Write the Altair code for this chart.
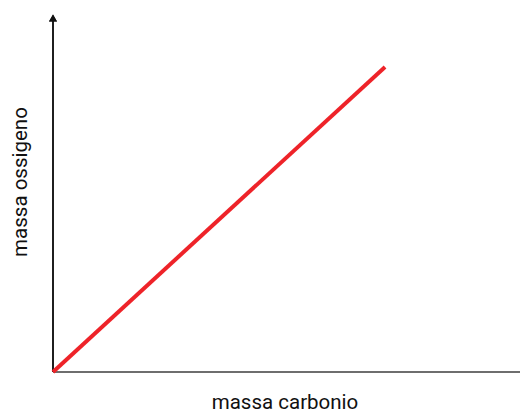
import altair as alt
import pandas as pd

carbonio = [0, 71.1]
ossigeno = [0, 83.8]

df = pd.DataFrame({"carbonio": carbonio, "ossigeno": ossigeno})

W, H = 467, 364

xsc = alt.Scale(domain=[0, 100], nice=False, zero=True)
ysc = alt.Scale(domain=[0, 100], nice=False, zero=True)

title_style = dict(titleFontSize=20.5, titleFontWeight="normal", titleFont="Roboto",
                   titleColor="#111111")

line = alt.Chart(df).mark_line(color="#ee2329", strokeWidth=4, strokeCap="butt").encode(
    x=alt.X("carbonio:Q", scale=xsc,
            axis=alt.Axis(title="massa carbonio", labels=False, ticks=False, domain=False, grid=False,
                          titleX=231.5, titleY=36, titleBaseline="alphabetic", titleAlign="center",
                          **title_style)),
    y=alt.Y("ossigeno:Q", scale=ysc,
            axis=alt.Axis(title="massa ossigeno", labels=False, ticks=False, domain=False, grid=False,
                          titleX=-27, titleY=173.5, titleBaseline="alphabetic", titleAlign="center",
                          titleAngle=270, **title_style)),
)

xaxis = alt.Chart(df).mark_rule(color="#6e6e6e", strokeWidth=2).encode(
    x=alt.value(0), x2=alt.value(W), y=alt.value(H)
)
yaxis = alt.Chart(df).mark_rule(color="#111111", strokeWidth=1.5).encode(
    x=alt.value(0), y=alt.value(12), y2=alt.value(H)
)
arrow = alt.Chart(df).mark_point(shape="triangle-up", filled=True, color="#111111", size=65, opacity=1).encode(
    x=alt.value(0), y=alt.value(10)
)

chart = alt.layer(xaxis, yaxis, arrow, line).properties(
    width=W, height=H,
    background="white",
    autosize=alt.AutoSizeParams(type="none"),
    padding={"left": 45, "top": 0, "right": 0, "bottom": 46},
).configure_view(stroke=None)

chart.save("out.html", embed_options={"renderer": "svg", "actions": False})
